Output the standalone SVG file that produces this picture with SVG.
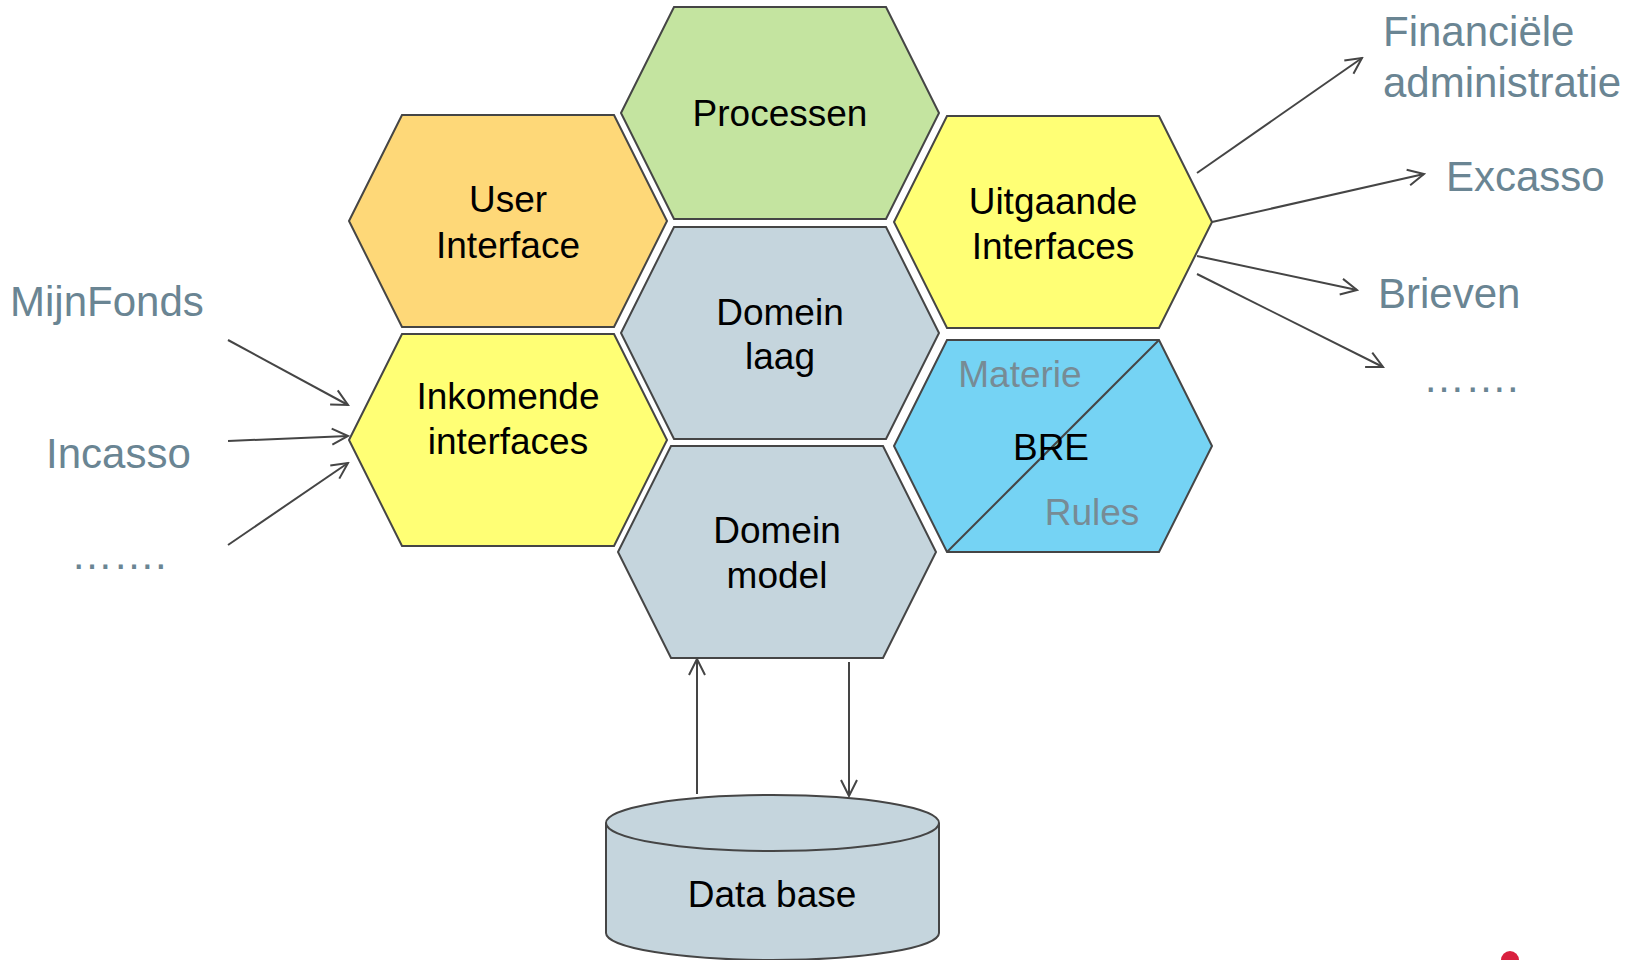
<svg xmlns="http://www.w3.org/2000/svg" width="1643" height="960" viewBox="0 0 1643 960">
<style>
.hex{stroke:#454545;stroke-width:2;stroke-linejoin:miter}
.lbl{font-family:"Liberation Sans",Arial,sans-serif;font-size:37px;fill:#000;text-anchor:middle}
.ext{font-family:"Liberation Sans",Arial,sans-serif;font-size:42px;fill:#6A8593}
.sub{font-family:"Liberation Sans",Arial,sans-serif;font-size:37px;fill:#778B95;text-anchor:middle}
.con{stroke:#454545;stroke-width:2;fill:none}
</style>
<defs>
<polygon id="hx" points="-159,0 -106,-106 106,-106 159,0 106,106 -106,106"/>
<marker id="arr" viewBox="-18 -10 20 20" refX="0" refY="0" markerWidth="20" markerHeight="20" orient="auto" markerUnits="userSpaceOnUse">
<path d="M-16,-8 L0,0 L-16,8" fill="none" stroke="#454545" stroke-width="2"/>
</marker>
</defs>
<rect width="1643" height="960" fill="#fff"/>

<g id="processen">
<use href="#hx" x="780" y="113" class="hex" fill="#C4E4A0"/>
<text class="lbl" x="780" y="126">Processen</text>
</g>
<g id="user-interface">
<use href="#hx" x="508" y="221" class="hex" fill="#FED878"/>
<text class="lbl" x="508" y="212">User</text>
<text class="lbl" x="508" y="258">Interface</text>
</g>
<g id="uitgaande-interfaces">
<use href="#hx" x="1053" y="222" class="hex" fill="#FFFF75"/>
<text class="lbl" x="1053" y="214">Uitgaande</text>
<text class="lbl" x="1053" y="259">Interfaces</text>
</g>
<g id="domein-laag">
<use href="#hx" x="780" y="333" class="hex" fill="#C5D5DD"/>
<text class="lbl" x="780" y="325">Domein</text>
<text class="lbl" x="780" y="369">laag</text>
</g>
<g id="inkomende-interfaces">
<use href="#hx" x="508" y="440" class="hex" fill="#FFFF75"/>
<text class="lbl" x="508" y="409">Inkomende</text>
<text class="lbl" x="508" y="454">interfaces</text>
</g>
<g id="bre">
<use href="#hx" x="1053" y="446" class="hex" fill="#75D3F4"/>
<line x1="947" y1="552" x2="1159" y2="340" stroke="#454545" stroke-width="2"/>
<text class="sub" x="1020" y="387">Materie</text>
<text class="lbl" x="1051" y="460">BRE</text>
<text class="sub" x="1092" y="525">Rules</text>
</g>
<g id="domein-model">
<use href="#hx" x="777" y="552" class="hex" fill="#C5D5DD"/>
<text class="lbl" x="777" y="543">Domein</text>
<text class="lbl" x="777" y="588">model</text>
</g>
<g id="database">
<path d="M606,823 L606,933 A166.5,27 0 0 0 939,933 L939,823" class="hex" fill="#C5D5DD"/>
<ellipse cx="772.5" cy="823" rx="166.5" ry="28" class="hex" fill="#C5D5DD"/>
<text class="lbl" x="772" y="907">Data base</text>
</g>

<g id="labels">
<text class="ext" x="10" y="316">MijnFonds</text>
<text class="ext" x="46" y="468">Incasso</text>
<text class="ext" x="71" y="569">…….</text>
<text class="ext" x="1383" y="46">Financiële</text>
<text class="ext" x="1383" y="97">administratie</text>
<text class="ext" x="1446" y="191">Excasso</text>
<text class="ext" x="1378" y="308">Brieven</text>
<text class="ext" x="1423" y="392">…….</text>
</g>

<g id="connectors">
<line class="con" x1="228" y1="340" x2="348" y2="405" marker-end="url(#arr)"/>
<line class="con" x1="228" y1="441" x2="348" y2="436" marker-end="url(#arr)"/>
<line class="con" x1="228" y1="545" x2="348" y2="463" marker-end="url(#arr)"/>
<line class="con" x1="1197" y1="173" x2="1362" y2="58" marker-end="url(#arr)"/>
<line class="con" x1="1212" y1="222" x2="1424" y2="174" marker-end="url(#arr)"/>
<line class="con" x1="1197" y1="256" x2="1357" y2="290" marker-end="url(#arr)"/>
<line class="con" x1="1197" y1="274" x2="1383" y2="367" marker-end="url(#arr)"/>
<line class="con" x1="697" y1="794" x2="697" y2="659" marker-end="url(#arr)"/>
<line class="con" x1="849" y1="662" x2="849" y2="796" marker-end="url(#arr)"/>
</g>

<g id="logo">
<circle cx="1510" cy="960" r="9" fill="#D9203E"/>
</g>
</svg>
